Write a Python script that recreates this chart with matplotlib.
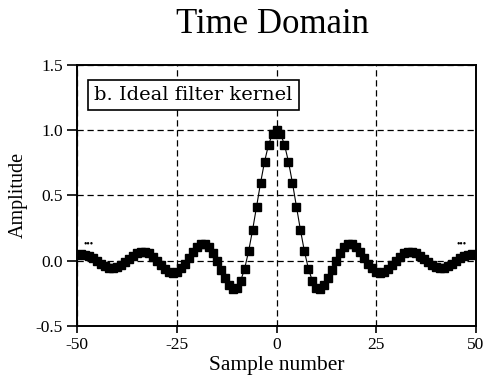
import matplotlib
matplotlib.use("Agg")
import matplotlib.pyplot as plt
import numpy as np

# Sample numbers and amplitudes of the ideal filter kernel
samples = np.arange(-50, 51)
half = [1.000, 0.971, 0.887, 0.757, 0.594, 0.413, 0.234, 0.071, -0.062, -0.156,
        -0.207, -0.216, -0.189, -0.136, -0.069, 0.000, 0.061, 0.104, 0.126, 0.125,
        0.103, 0.067, 0.023, -0.022, -0.058, -0.083, -0.091, -0.084, -0.063, -0.033,
        0.000, 0.031, 0.055, 0.069, 0.070, 0.059, 0.039, 0.013, -0.013, -0.036,
        -0.052, -0.058, -0.054, -0.041, -0.022, 0.000, 0.021, 0.038, 0.047, 0.048,
        0.041]
amplitude = half[:0:-1] + half

x_ticks = [-50, -25, 0, 25, 50]
y_ticks = [-0.5, 0.0, 0.5, 1.0, 1.5]
title = "Time Domain"
panel_label = "b. Ideal filter kernel"

plt.rcParams["font.family"] = ["Liberation Serif", "DejaVu Serif"]
plt.rcParams["axes.unicode_minus"] = False

fig = plt.figure(figsize=(4.92, 3.80), dpi=100)
ax = fig.add_axes([0.1565, 0.142, 0.811, 0.688])

ax.plot(samples, amplitude, color="black", linewidth=0.8,
        marker="s", markersize=5.4, markerfacecolor="black",
        markeredgecolor="black", zorder=3)

ax.set_xlim(-50, 50)
ax.set_ylim(-0.5, 1.5)
ax.set_xticks(x_ticks)
ax.set_yticks(y_ticks)
ax.set_xticklabels([str(t) for t in x_ticks])
ax.set_yticklabels([f"{t:.1f}" for t in y_ticks])
ax.tick_params(direction="out", length=5, width=1.2, labelsize=12.5,
               colors="black", pad=3)
ax.tick_params(axis="y", length=7)

ax.grid(True, color="black", linestyle=(0, (5, 3)), linewidth=0.9)
ax.set_axisbelow(True)
for s in ax.spines.values():
    s.set_linewidth(1.4)

ax.set_xlabel("Sample number", fontsize=15.5, labelpad=2)
ax.set_ylabel("Amplitude", fontsize=14.5, labelpad=6)

fig.text(0.553, 0.912, title, fontsize=25, ha="center", va="baseline")

# continuation dots at both ends
ax.text(-47.2, 0.13, "•••", fontsize=7, ha="center", va="center")
ax.text(46.5, 0.13, "•••", fontsize=7, ha="center", va="center")

ax.text(-45.7, 1.268, panel_label, fontsize=14, family="DejaVu Serif",
        ha="left", va="center",
        bbox=dict(boxstyle="square,pad=0.33", facecolor="white",
                  edgecolor="black", linewidth=1.2), zorder=5)

fig.savefig("out.png", dpi=100)
